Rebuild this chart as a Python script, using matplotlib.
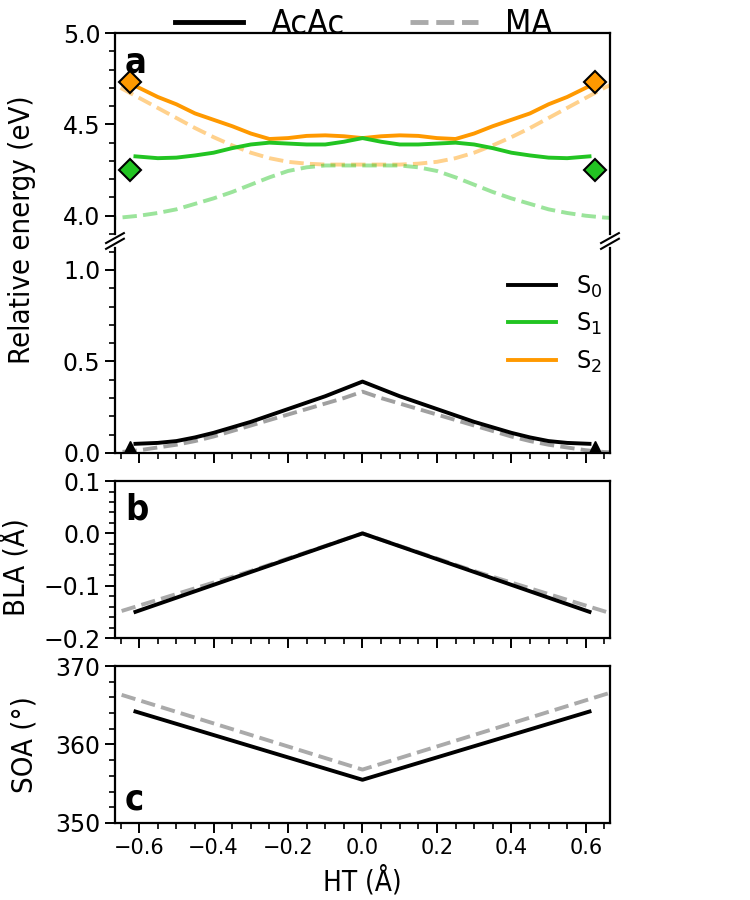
import numpy as np
import matplotlib
matplotlib.use("Agg")
import matplotlib.pyplot as plt
from matplotlib.lines import Line2D
from matplotlib.ticker import MultipleLocator, FuncFormatter
from matplotlib import font_manager
from matplotlib.font_manager import FontProperties

# --- data (left half, mirrored about HT = 0) ---
x_acac_half = [-0.61, -0.55, -0.50, -0.45, -0.40, -0.35, -0.30, -0.25, -0.20, -0.15, -0.10, -0.05, 0.0]
s0_acac_half = [0.05, 0.055, 0.065, 0.085, 0.11, 0.14, 0.17, 0.205, 0.24, 0.275, 0.31, 0.35, 0.39]
s1_acac_half = [4.325, 4.315, 4.318, 4.33, 4.345, 4.37, 4.39, 4.40, 4.395, 4.39, 4.39, 4.405, 4.425]
s2_acac_half = [4.71, 4.65, 4.61, 4.56, 4.525, 4.49, 4.45, 4.42, 4.425, 4.437, 4.44, 4.435, 4.425]

x_ma_half = [-0.70, -0.65, -0.60, -0.55, -0.50, -0.45, -0.40, -0.35, -0.30, -0.25, -0.20, -0.15, -0.10, -0.05, 0.0]
s0_ma_half = [0.0, 0.005, 0.015, 0.03, 0.045, 0.065, 0.09, 0.12, 0.15, 0.18, 0.21, 0.24, 0.27, 0.30, 0.335]
s1_ma_half = [3.985, 3.99, 4.0, 4.015, 4.035, 4.065, 4.095, 4.13, 4.17, 4.21, 4.245, 4.265, 4.275, 4.275, 4.275]
s2_ma_half = [4.75, 4.70, 4.645, 4.59, 4.535, 4.48, 4.43, 4.385, 4.345, 4.315, 4.295, 4.285, 4.28, 4.28, 4.28]
bla_ma_half = [-0.160, -0.149, -0.138, -0.127, -0.116, -0.105, -0.094, -0.083, -0.072, -0.060, -0.048, -0.036, -0.024, -0.012, 0.0]

bla_x = [-0.61, 0.0, 0.61]
bla_acac = [-0.15, 0.0, -0.15]
soa_x_acac = [-0.61, 0.0, 0.61]
soa_acac = [364.2, 355.5, 364.2]
soa_x_ma = [-0.70, 0.0, 0.70]
soa_ma = [367.1, 356.8, 367.1]

# crossing points at the ends
mark_x = [-0.625, 0.625]
s1_mark = [4.25, 4.25]
s2_mark = [4.73, 4.73]
s0_mark = [0.0, 0.0]


def mirror_x(h):
    return list(h) + [-v for v in h[-2::-1]]


def mirror_y(h):
    return list(h) + list(h[-2::-1])


x_acac = mirror_x(x_acac_half)
x_ma = mirror_x(x_ma_half)

black = "black"
green = "#22c422"
orange = "#ff9900"
lw = 2.8

# condensed text font: DejaVu Sans Condensed if present, else Roboto Condensed
cond_path = font_manager.findfont(FontProperties(family="DejaVu Sans", stretch="condensed"))
if "Condensed" in cond_path:
    txt = dict(family="DejaVu Sans", stretch="condensed")
else:
    txt = dict(family=["Roboto Condensed", "DejaVu Sans"])


def tp(size, **extra):
    d = dict(txt)
    d.update(extra)
    return FontProperties(size=size, **d)


plt.rcParams["font.family"] = "DejaVu Sans"
plt.rcParams["xtick.labelsize"] = 15
plt.rcParams["ytick.labelsize"] = 17
plt.rcParams["axes.linewidth"] = 1.6

fig = plt.figure(figsize=(7.5, 9), dpi=100)
L, W = 0.1533, 0.66
ax_up = fig.add_axes([L, 0.74, W, 0.2233])
ax_lo = fig.add_axes([L, 0.4967, W, 0.2278])
ax_b = fig.add_axes([L, 0.2911, W, 0.1744])
ax_c = fig.add_axes([L, 0.0856, W, 0.1744])

xlim = (-0.665, 0.665)

# excited states
ax_up.plot(x_ma, mirror_y(s2_ma_half), "--", color=orange, alpha=0.45, lw=lw)
ax_up.plot(x_ma, mirror_y(s1_ma_half), "--", color=green, alpha=0.45, lw=lw)
ax_up.plot(x_acac, mirror_y(s2_acac_half), "-", color=orange, lw=lw)
ax_up.plot(x_acac, mirror_y(s1_acac_half), "-", color=green, lw=lw)
ax_up.plot(mark_x, s2_mark, "D", color=orange, mec="black", mew=1.5, ms=11.5, ls="none", clip_on=False, zorder=5)
ax_up.plot(mark_x, s1_mark, "D", color=green, mec="black", mew=1.5, ms=11.5, ls="none", clip_on=False, zorder=5)
ax_up.set_ylim(3.9, 5.0)
ax_up.yaxis.set_major_locator(MultipleLocator(0.5))
ax_up.yaxis.set_minor_locator(MultipleLocator(0.1))

# ground state
ax_lo.plot(x_ma, mirror_y(s0_ma_half), "--", color="#a0a0a0", lw=lw)
ax_lo.plot(x_acac, mirror_y(s0_acac_half), "-", color=black, lw=lw, label="S$_0$")
ax_lo.plot([], [], "-", color=green, lw=lw, label="S$_1$")
ax_lo.plot([], [], "-", color=orange, lw=lw, label="S$_2$")
ax_lo.plot(mark_x, s0_mark, "^", color="black", ms=17, ls="none", zorder=5)
ax_lo.set_ylim(0, 1.12)
ax_lo.yaxis.set_major_locator(MultipleLocator(0.5))
ax_lo.yaxis.set_minor_locator(MultipleLocator(0.1))
ax_lo.legend(loc="upper right", bbox_to_anchor=(1.03, 0.985), frameon=False,
             prop=tp(18), handlelength=1.9, handletextpad=0.8, labelspacing=0.45)

# BLA
ax_b.plot(x_ma, mirror_y(bla_ma_half), "--", color="#aaaaaa", lw=lw)
ax_b.plot(bla_x, bla_acac, "-", color=black, lw=lw)
ax_b.set_ylim(-0.2, 0.1)
ax_b.yaxis.set_major_locator(MultipleLocator(0.1))
ax_b.yaxis.set_minor_locator(MultipleLocator(0.02))

# SOA
ax_c.plot(soa_x_ma, soa_ma, "--", color="#aaaaaa", lw=lw)
ax_c.plot(soa_x_acac, soa_acac, "-", color=black, lw=lw)
ax_c.set_ylim(350, 370)
ax_c.yaxis.set_major_locator(MultipleLocator(10))
ax_c.yaxis.set_minor_locator(MultipleLocator(2))

for ax in (ax_up, ax_lo, ax_b, ax_c):
    ax.set_xlim(*xlim)
    ax.xaxis.set_major_locator(MultipleLocator(0.2))
    ax.xaxis.set_minor_locator(MultipleLocator(0.05))
    ax.tick_params(which="major", direction="out", length=7, width=1.4)
    ax.tick_params(which="minor", direction="out", length=4, width=1.2)
    if ax is not ax_c:
        ax.tick_params(axis="x", which="both", labelbottom=False)

ax_up.spines["bottom"].set_visible(False)
ax_up.tick_params(axis="x", which="both", bottom=False)
ax_lo.spines["top"].set_visible(False)
fmt1 = FuncFormatter(lambda v, p: f"{v:.1f}".replace("-", "\u2212"))
for ax in (ax_up, ax_lo, ax_b):
    ax.yaxis.set_major_formatter(fmt1)

# break marks
dx, dy = 0.018, 0.045
kw = dict(color="black", lw=1.5, clip_on=False)
for xx in (0, 1):
    ax_up.plot([xx - dx, xx + dx], [-dy, dy * 0.1], transform=ax_up.transAxes, **kw)
    ax_lo.plot([xx - dx, xx + dx], [1 - dy * 0.1, 1 + dy], transform=ax_lo.transAxes, **kw)

# labels
ax_c.set_xlabel("HT (Å)", fontproperties=tp(20), labelpad=6)
fig.text(0.03, 0.745, "Relative energy (eV)", rotation=90, ha="center", va="center",
         fontproperties=tp(21))
ax_b.set_ylabel("BLA (Å)", fontproperties=tp(21))
ax_c.set_ylabel("SOA (°)", fontproperties=tp(21))
ax_b.yaxis.set_label_coords(-0.17, 0.45)
ax_c.yaxis.set_label_coords(-0.155, 0.5)

for ax, lab, yy in ((ax_up, "a", 0.94), (ax_b, "b", 0.93), (ax_c, "c", 0.04)):
    ax.text(0.02, yy, lab, transform=ax.transAxes, fontproperties=tp(26, weight="bold"),
            va="top" if yy > 0.5 else "bottom", ha="left")

handles = [Line2D([], [], color="black", lw=3.5, ls="-"),
           Line2D([], [], color="#aaaaaa", lw=3.5, ls="--")]
fig.legend(handles, ["AcAc", "MA"], loc="upper center", bbox_to_anchor=(0.485, 1.025),
           ncol=2, frameon=False, prop=tp(24.5),
           handlelength=2.0, handletextpad=0.8, columnspacing=1.9)

fig.savefig("out.png", dpi=100)
